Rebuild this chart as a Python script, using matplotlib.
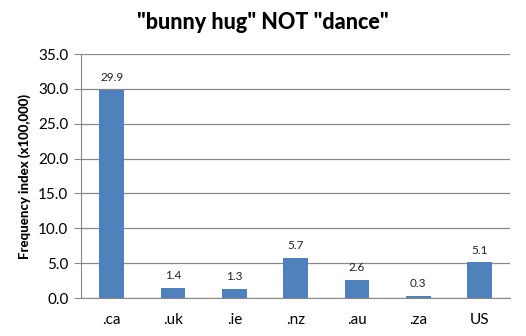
import matplotlib
matplotlib.use("Agg")
import matplotlib.pyplot as plt

# Chart data
domains = [".ca", ".uk", ".ie", ".nz", ".au", ".za", "US"]
freq_index = [29.9, 1.4, 1.3, 5.7, 2.6, 0.3, 5.1]
y_ticks = [0, 5, 10, 15, 20, 25, 30, 35]

plt.rcParams['font.family'] = ['Lato', 'DejaVu Sans']

fig = plt.figure(figsize=(5.26, 3.36), dpi=100)
ax = fig.add_axes([0.154, 0.113, 0.816, 0.726])

x = range(len(domains))
bars = ax.bar(x, freq_index, width=0.4, color="#4F81BD", zorder=3)

for xi, v in zip(x, freq_index):
    ax.text(xi, v + 1.0, f"{v:.1f}", ha="center", va="bottom", fontsize=8.5, color="#222222")

ax.set_xlim(-0.5, len(domains) - 0.5)
ax.set_ylim(0, 35)
ax.set_yticks(y_ticks)
ax.set_yticklabels([f"{t:.1f}" for t in y_ticks], fontsize=11)
ax.set_xticks(list(x))
ax.set_xticklabels(domains, fontsize=11)
ax.tick_params(axis="x", length=0, pad=11)
ax.tick_params(axis="y", length=5, color="#888888", pad=4)

ax.grid(axis="y", color="#888888", linewidth=0.9, zorder=0)
for side in ["top", "right"]:
    ax.spines[side].set_visible(False)
ax.spines["left"].set_color("#888888")
ax.spines["bottom"].set_color("#888888")

ax.set_ylabel("Frequency index (x100,000)", fontsize=9.5, fontweight="black", labelpad=5)
fig.suptitle('"bunny hug" NOT "dance"', fontsize=15.5, fontweight="black", y=0.965)

fig.savefig("out.png", dpi=100)
